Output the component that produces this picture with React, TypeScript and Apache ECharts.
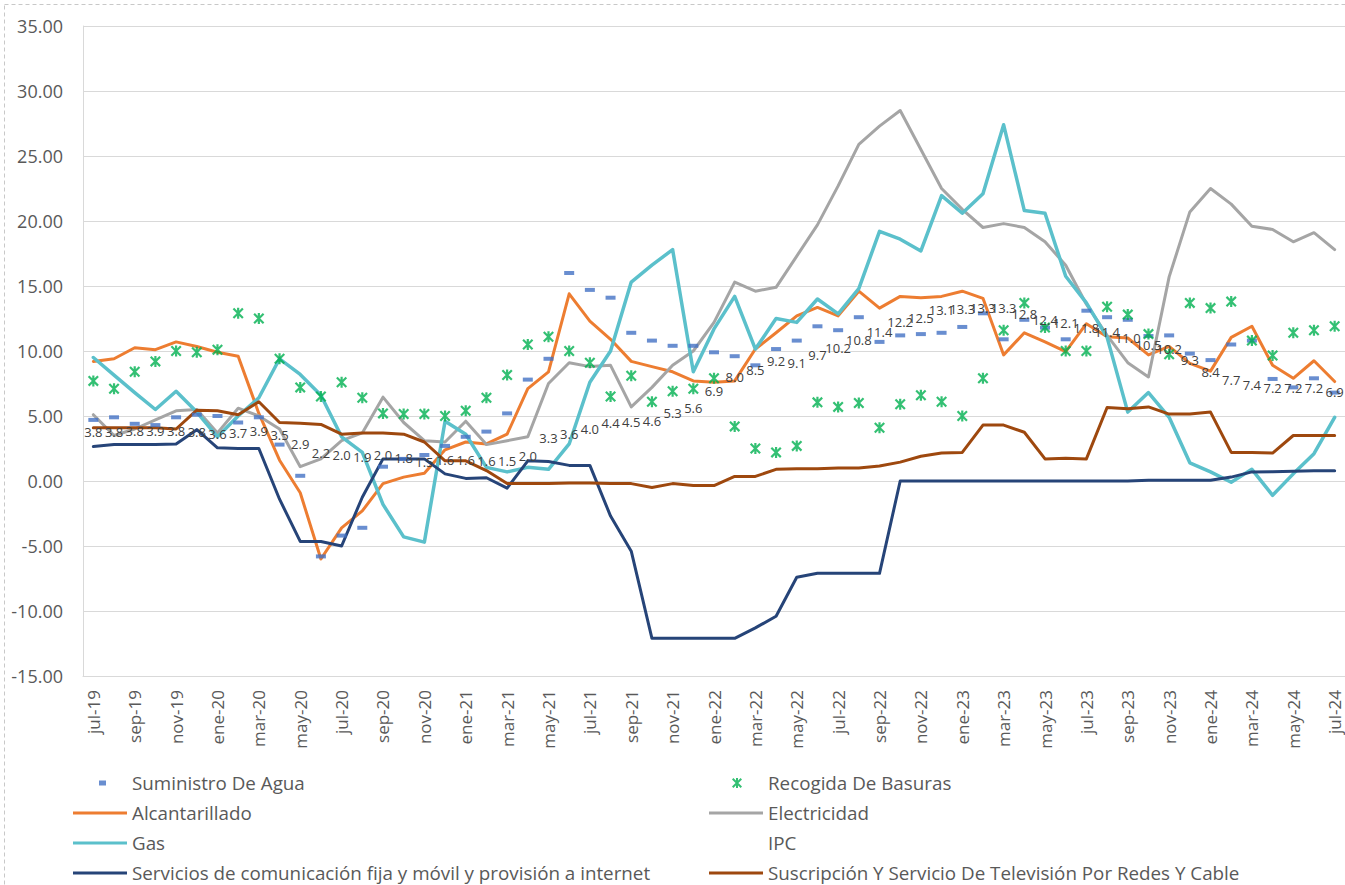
import React, { useEffect, useRef } from "react";
import * as echarts from "echarts";

const categories = [
  "jul-19","ago-19","sep-19","oct-19","nov-19","dic-19",
  "ene-20","feb-20","mar-20","abr-20","may-20","jun-20","jul-20","ago-20","sep-20","oct-20","nov-20","dic-20",
  "ene-21","feb-21","mar-21","abr-21","may-21","jun-21","jul-21","ago-21","sep-21","oct-21","nov-21","dic-21",
  "ene-22","feb-22","mar-22","abr-22","may-22","jun-22","jul-22","ago-22","sep-22","oct-22","nov-22","dic-22",
  "ene-23","feb-23","mar-23","abr-23","may-23","jun-23","jul-23","ago-23","sep-23","oct-23","nov-23","dic-23",
  "ene-24","feb-24","mar-24","abr-24","may-24","jun-24","jul-24"
];

const suministroAgua = [
  4.7, 4.9, 4.4, 4.3, 4.9, 5.1, 5.0, 4.5, 4.9, 2.8, 0.4, -5.8, -4.2, -3.6, 1.1, 1.7,
  2.0, 2.7, 3.4, 3.8, 5.2, 7.8, 9.4, 16.0, 14.7, 14.1, 11.4, 10.8, 10.4, 10.4,
  9.9, 9.6, 8.9, 10.15, 10.8, 11.9, 11.6, 12.6, 10.7, 11.2, 11.3, 11.4,
  11.85, 12.9, 10.9, 12.4, 11.8, 10.9, 13.1, 12.6, 12.4, 11.15, 11.2, 9.8,
  9.3, 10.5, 10.8, 7.85, 7.2, 7.9, 6.8
];

const recogidaBasuras = [
  7.7, 7.1, 8.4, 9.2, 10.0, 9.9, 10.1, 12.9, 12.5, 9.4, 7.2, 6.5, 7.6, 6.4, 5.2, 5.15,
  5.15, 5.0, 5.4, 6.4, 8.15, 10.5, 11.1, 10.0, 9.1, 6.5, 8.1, 6.1, 6.9, 7.1,
  7.9, 4.2, 2.5, 2.2, 2.7, 6.05, 5.7, 6.0, 4.1, 5.9, 6.6, 6.1,
  5.0, 7.9, 11.6, 13.7, 11.8, 10.0, 10.0, 13.4, 12.8, 11.3, 9.75, 13.7,
  13.3, 13.8, 10.8, 9.65, 11.4, 11.6, 11.9
];

const alcantarillado = [
  9.2, 9.4, 10.25, 10.1, 10.7, 10.35, 9.9, 9.6, 5.2, 1.6, -0.9, -6.0, -3.6, -2.3, -0.2, 0.3,
  0.6, 2.4, 3.0, 2.85, 3.6, 7.1, 8.4, 14.4, 12.3, 10.9, 9.2, 8.8, 8.4, 7.7,
  7.6, 7.7, 10.15, 11.4, 12.7, 13.35, 12.7, 14.6, 13.3, 14.2, 14.1, 14.2,
  14.6, 14.05, 9.7, 11.4, 10.7, 9.95, 12.1, 11.1, 11.0, 9.7, 10.35, 9.05,
  8.45, 11.05, 11.9, 8.9, 7.9, 9.25, 7.65
];

const electricidad = [
  5.1, 3.5, 4.0, 4.7, 5.4, 5.5, 3.7, 5.6, 5.0, 4.0, 1.1, 1.7, 3.1, 3.7, 6.45, 4.5,
  3.1, 3.0, 4.6, 2.8, 3.1, 3.4, 7.5, 9.1, 8.8, 8.9, 5.7, 7.2, 8.9, 10.0,
  12.2, 15.3, 14.6, 14.9, 17.3, 19.7, 22.7, 25.9, 27.3, 28.5, 25.5, 22.5,
  20.9, 19.5, 19.8, 19.5, 18.4, 16.6, 13.6, 11.2, 9.1, 8.0, 15.7, 20.7,
  22.5, 21.3, 19.6, 19.35, 18.4, 19.1, 17.8
];

const gas = [
  9.5, 8.15, 6.8, 5.5, 6.9, 5.3, 3.4, 5.0, 6.4, 9.4, 8.2, 6.6, 3.4, 2.2, -1.8, -4.3,
  -4.7, 4.6, 3.6, 1.05, 0.7, 1.05, 0.9, 2.85, 7.6, 10.0, 15.3, 16.6, 17.8, 8.4,
  11.7, 14.2, 10.15, 12.5, 12.2, 14.0, 12.85, 14.8, 19.2, 18.6, 17.7, 21.95,
  20.6, 22.1, 27.4, 20.8, 20.6, 15.75, 13.7, 11.05, 5.3, 6.8, 4.9, 1.4,
  0.7, -0.1, 0.9, -1.1, 0.55, 2.1, 4.9
];

const ipc = [
  3.79, 3.75, 3.82, 3.86, 3.84, 3.80, 3.62, 3.72, 3.86, 3.51, 2.85, 2.19, 1.97, 1.88, 1.97, 1.75,
  1.49, 1.61, 1.60, 1.56, 1.51, 1.95, 3.30, 3.63, 3.97, 4.44, 4.51, 4.58, 5.26, 5.62,
  6.94, 8.01, 8.53, 9.23, 9.07, 9.67, 10.21, 10.84, 11.44, 12.22, 12.53, 13.12,
  13.25, 13.28, 13.34, 12.82, 12.36, 12.13, 11.78, 11.43, 10.99, 10.48, 10.15, 9.28,
  8.35, 7.74, 7.36, 7.16, 7.16, 7.18, 6.86
];

const comunicacion = [
  2.65, 2.8, 2.8, 2.8, 2.85, 3.95, 2.55, 2.5, 2.5, -1.4, -4.65, -4.65, -5.0, -1.25, 1.7, 1.7,
  1.7, 0.55, 0.2, 0.25, -0.55, 1.55, 1.5, 1.2, 1.2, -2.7, -5.4, -12.1, -12.1, -12.1,
  -12.1, -12.1, -11.3, -10.4, -7.4, -7.1, -7.1, -7.1, -7.1, 0, 0, 0,
  0, 0, 0, 0, 0, 0, 0, 0, 0, 0.05, 0.05, 0.05,
  0.05, 0.3, 0.7, 0.72, 0.75, 0.78, 0.78
];

const television = [
  4.1, 4.1, 4.1, 4.1, 4.0, 5.45, 5.4, 5.1, 6.1, 4.5, 4.45, 4.35, 3.6, 3.7, 3.7, 3.6,
  3.0, 1.55, 1.55, 0.8, -0.2, -0.2, -0.2, -0.15, -0.15, -0.2, -0.2, -0.5, -0.2, -0.35,
  -0.35, 0.35, 0.35, 0.9, 0.95, 0.95, 1.0, 1.0, 1.15, 1.45, 1.9, 2.15,
  2.2, 4.3, 4.3, 3.75, 1.7, 1.75, 1.7, 5.65, 5.55, 5.7, 5.15, 5.15,
  5.3, 2.2, 2.2, 2.15, 3.5, 3.5, 3.5
];

const FONT = "'Open Sans', sans-serif";
const TEXT_COLOR = "#595959";
const STAR =
  "path://M4,0h2v10h-2z M0,1.4L1.4,0L10,8.6L8.6,10z M8.6,0L10,1.4L1.4,10L0,8.6z";

const N_AGUA = "Suministro De Agua";
const N_BAS = "Recogida De Basuras";
const N_ALC = "Alcantarillado";
const N_ELE = "Electricidad";
const N_GAS = "Gas";
const N_IPC = "IPC";
const N_COM = "Servicios de comunicación fija y móvil y provisión a internet";
const N_TV = "Suscripción Y Servicio De Televisión Por Redes Y Cable";

function legendRow(name: string, left: number, cy: number, icon: string, w: number, h: number, pad: number) {
  return {
    data: [name],
    left,
    top: cy - 11,
    orient: "horizontal",
    icon,
    itemWidth: w,
    itemHeight: h,
    padding: 0,
    selectedMode: false,
    textStyle: {
      fontFamily: FONT,
      fontSize: 18.8,
      color: TEXT_COLOR,
      lineHeight: 22,
      padding: [0, 0, 0, pad],
    },
  };
}

function lineSeries(name: string, data: number[], color: string, width = 3) {
  return {
    name,
    type: "line",
    data,
    color,
    symbol: "none",
    lineStyle: { color, width, join: "round", cap: "round" },
    z: 2,
  };
}

export default function App() {
  const ref = useRef<HTMLDivElement>(null);

  useEffect(() => {
    if (!ref.current) return;
    const chart = echarts.init(ref.current, undefined, { renderer: "svg" });

    const option = {
      animation: false,
      backgroundColor: "#ffffff",
      graphic: [
        {
          type: "rect",
          shape: { x: 4.5, y: 4.5, width: 1400, height: 1000 },
          style: { fill: "none", stroke: "#C8C8C8", lineWidth: 1, lineDash: [4, 3] },
          silent: true,
          z: -1,
        },
      ],
      grid: { left: 83, top: 26, width: 1266, height: 650, containLabel: false },
      legend: [
        legendRow(N_AGUA, 99, 783, "rect", 7, 5, 21),
        legendRow(N_ALC, 73, 813, "rect", 54, 3, 0),
        legendRow(N_GAS, 73, 843, "rect", 54, 3, 0),
        legendRow(N_COM, 73, 873, "rect", 54, 3, 0),
        legendRow(N_BAS, 732, 783, STAR, 10, 10, 21),
        legendRow(N_ELE, 709, 813, "rect", 54, 3, 0),
        legendRow(N_IPC, 709, 843, "rect", 54, 3, 0),
        legendRow(N_TV, 709, 873, "rect", 54, 3, 0),
      ],
      xAxis: {
        type: "category",
        data: categories,
        boundaryGap: true,
        axisLine: { show: true, onZero: false, lineStyle: { color: "#D9D9D9", width: 1 } },
        axisTick: { show: false },
        axisLabel: {
          interval: 1,
          rotate: 90,
          margin: 14,
          fontFamily: FONT,
          fontSize: 17,
          color: TEXT_COLOR,
        },
        splitLine: { show: false },
      },
      yAxis: {
        type: "value",
        min: -15,
        max: 35,
        interval: 5,
        axisLine: { show: true, lineStyle: { color: "#D9D9D9", width: 1 } },
        axisTick: { show: false },
        axisLabel: {
          margin: 20,
          fontFamily: FONT,
          fontSize: 18,
          color: TEXT_COLOR,
          formatter: (v: number) => v.toFixed(2),
        },
        splitLine: { show: true, lineStyle: { color: "#D9D9D9", width: 1 } },
      },
      series: [
        lineSeries(N_ALC, alcantarillado, "#ED7D31", 3),
        lineSeries(N_ELE, electricidad, "#A5A5A5", 3),
        lineSeries(N_GAS, gas, "#5BC0CB", 3.5),
        {
          name: N_IPC,
          type: "line",
          data: ipc,
          color: "rgba(0,0,0,0)",
          symbol: "circle",
          symbolSize: 1,
          showAllSymbol: true,
          itemStyle: { color: "rgba(0,0,0,0)" },
          lineStyle: { width: 0, opacity: 0 },
          label: {
            show: true,
            position: "inside",
            fontFamily: FONT,
            fontSize: 13,
            color: "#404040",
            formatter: (p: any) => (Math.round(p.value * 10 + 1e-6) / 10).toFixed(1),
          },
          z: 4,
        },
        lineSeries(N_COM, comunicacion, "#264478", 3),
        lineSeries(N_TV, television, "#9E480E", 3),
        {
          name: N_AGUA,
          type: "scatter",
          data: suministroAgua,
          color: "#4472C4",
          symbol: "rect",
          symbolSize: [10, 4],
          itemStyle: { color: "#4472C4" },
          z: 3,
        },
        {
          name: N_BAS,
          type: "scatter",
          data: recogidaBasuras,
          color: "#00B050",
          symbol: STAR,
          symbolSize: 11,
          itemStyle: { color: "#00B050" },
          z: 3,
        },
      ],
    };

    chart.setOption(option as any);
    return () => {
      chart.dispose();
    };
  }, []);

  return (
    <div
      ref={ref}
      style={{ position: "fixed", left: 0, top: 0, width: 1345, height: 885, background: "#fff" }}
    />
  );
}
